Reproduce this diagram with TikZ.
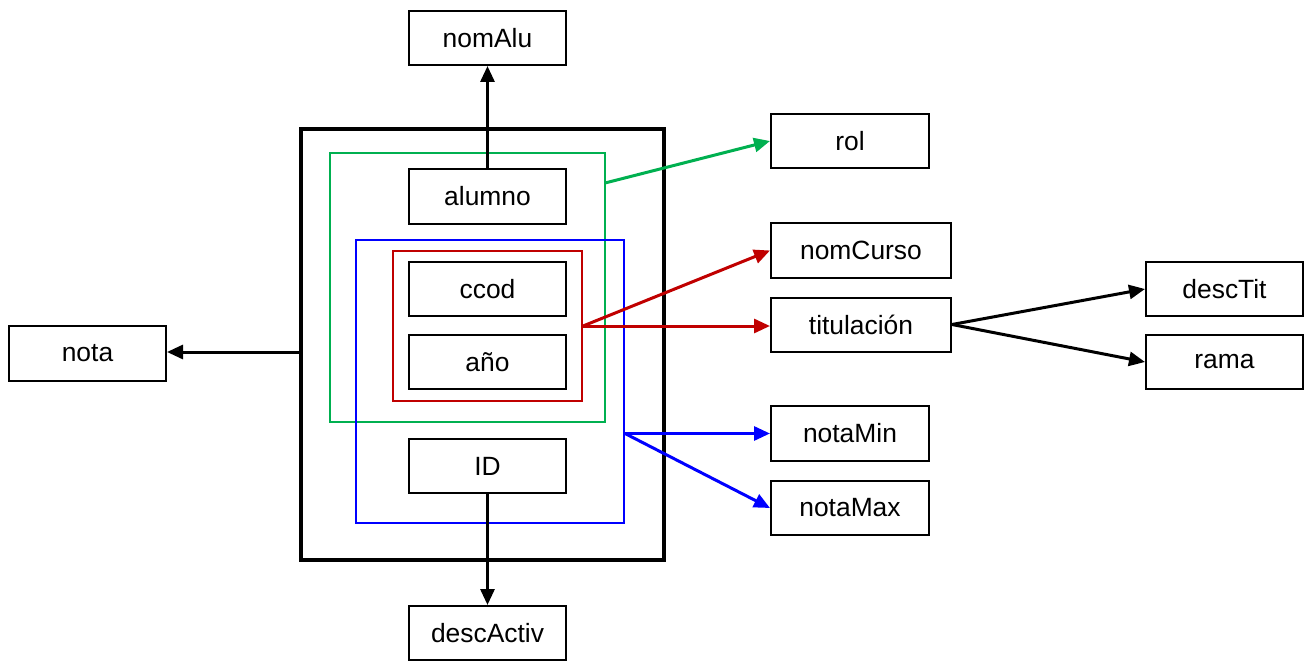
\documentclass[tikz,border=0pt]{standalone}
\usepackage{fontspec}
\setmainfont{Liberation Sans}
\usetikzlibrary{arrows.meta}
\definecolor{grp}{RGB}{0,176,80}
\definecolor{rdc}{RGB}{192,0,0}
\definecolor{blc}{RGB}{0,0,255}
\begin{document}
\begin{tikzpicture}[x=1pt,y=-1pt,
  attr/.style={draw=black,line width=2pt,fill=white,inner sep=0pt,minimum width=157pt,minimum height=54pt,font=\fontsize{26.4}{30}\selectfont},
  grpbox/.style={draw,line width=2pt,inner sep=0pt},
  conn/.style={line width=3pt,-{Triangle[length=16pt,width=14pt]}}]
\useasboundingbox (0,0) rectangle (1304,661);
% group boxes
\node[grpbox,line width=4pt,minimum width=363pt,minimum height=431pt] (outer) at (482.5,344.5) {};
\node[grpbox,draw=grp,minimum width=275pt,minimum height=269pt] (green) at (467.5,287.5) {};
\node[grpbox,draw=blc,minimum width=268pt,minimum height=283pt] (blue) at (490,381.5) {};
\node[grpbox,draw=rdc,minimum width=189pt,minimum height=150pt] (red) at (487.5,326) {};
% attribute boxes
\node[attr] (nomAlu) at (487.5,38) {nomAlu};
\node[attr,minimum height=55pt] (alumno) at (487.5,196.5) {alumno};
\node[attr] (ccod) at (487.5,289) {ccod};
\node[attr] (anio) at (487.5,362) {año};
\node[attr] (ID) at (487.5,466) {ID};
\node[attr] (descActiv) at (487.5,633) {descActiv};
\node[attr,minimum height=55pt] (nota) at (87.5,353.5) {nota};
\node[attr,minimum width=158pt] (rol) at (850,141) {rol};
\node[attr,minimum width=180pt,minimum height=55pt] (nomCurso) at (861,250.5) {nomCurso};
\node[attr,minimum width=180pt] (titulacion) at (861,324.5) {titulación};
\node[attr,minimum width=158pt,minimum height=55pt] (notaMin) at (850,433.5) {notaMin};
\node[attr,minimum width=158pt] (notaMax) at (850,508) {notaMax};
\node[attr] (descTit) at (1224.5,289) {descTit};
\node[attr] (rama) at (1224.5,362) {rama};
% connectors
\coordinate (gs) at (605,183);
\draw[conn] (alumno.north) -- (nomAlu.south);
\draw[conn] (outer.west |- 0,352) -- (nota.east |- 0,352);
\draw[conn,draw=grp,fill=grp] (gs) -- (rol.west);
\draw[conn,draw=rdc] (red.east) -- (nomCurso.west);
\draw[conn,draw=rdc] (red.east) -- (red.east -| titulacion.west);
\draw[conn,draw=blc] (blue.east |- notaMin.west) -- (notaMin.west);
\draw[conn,draw=blc] (blue.east |- notaMin.west) -- (notaMax.west);
\draw[conn] (ID.south) -- (descActiv.north);
\draw[conn] (titulacion.east) -- (descTit.west);
\draw[conn] (titulacion.east) -- (rama.west);
\end{tikzpicture}
\end{document}
